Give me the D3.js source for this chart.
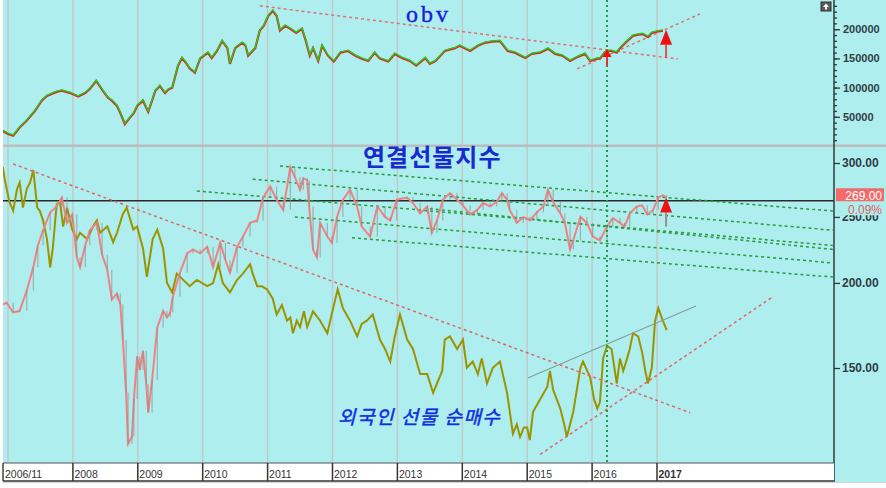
<!DOCTYPE html>
<html>
<head>
<meta charset="utf-8">
<script src="https://cdn.jsdelivr.net/npm/d3@7"></script>
<style>
  body { margin: 0; background: #fff; }
  svg { display: block; font-family: "Liberation Sans", Arial, sans-serif; }
</style>
</head>
<body>
<svg id="chart" width="886" height="488"></svg>
<script>
// OBV (top panel), values in thousands
const obvYears = [2006.92,2007.00,2007.08,2007.18,2007.29,2007.42,2007.52,2007.60,2007.68,2007.75,
  2007.83,2007.96,2008.08,2008.19,2008.26,2008.36,2008.46,2008.54,2008.60,2008.68,
  2008.73,2008.80,2008.88,2008.94,2008.99,2009.08,2009.16,2009.22,2009.27,2009.34,
  2009.42,2009.47,2009.53,2009.62,2009.68,2009.74,2009.80,2009.88,2009.96,2010.02,
  2010.08,2010.14,2010.22,2010.30,2010.38,2010.42,2010.50,2010.61,2010.66,2010.70,
  2010.81,2010.88,2010.94,2011.01,2011.08,2011.14,2011.19,2011.27,2011.35,2011.44,
  2011.53,2011.59,2011.65,2011.70,2011.78,2011.84,2011.93,2012.02,2012.12,2012.24,
  2012.35,2012.45,2012.55,2012.65,2012.73,2012.86,2012.96,2013.07,2013.19,2013.29,
  2013.43,2013.50,2013.59,2013.73,2013.89,2013.96,2014.12,2014.24,2014.35,2014.46,
  2014.58,2014.70,2014.81,2014.97,2015.07,2015.20,2015.32,2015.43,2015.54,2015.66,
  2015.78,2015.89,2015.97,2016.08,2016.12,2016.19,2016.23,2016.30,2016.38,2016.43,
  2016.54,2016.63,2016.71,2016.78,2016.86,2016.92,2017.00,2017.09];
const obvK = [27,22,19,33,45,62,79,87,91,94,
  96,92,86,92,99,113,96,84,79,70,
  58,39,50,58,70,79,60,79,96,104,
  92,98,101,139,152,144,134,127,151,156,
  161,152,164,181,169,142,169,178,173,156,
  169,199,207,224,233,224,199,207,202,195,
  202,181,156,169,147,173,156,146,161,164,
  156,151,147,161,151,146,159,152,147,139,
  152,142,147,164,169,173,164,173,178,180,
  181,164,161,152,159,161,168,159,156,147,
  154,159,147,151,151,161,164,164,161,169,
  181,190,192,193,188,195,197,199];

// 연결선물지수 (weekly closes)
const priceYears = [2006.92,2006.98,2007.08,2007.18,2007.29,2007.39,2007.46,2007.54,2007.65,2007.75,
  2007.83,2007.91,2007.99,2008.06,2008.11,2008.19,2008.26,2008.37,2008.45,2008.53,
  2008.60,2008.68,2008.73,2008.77,2008.82,2008.85,2008.91,2008.94,2008.99,2009.03,
  2009.08,2009.13,2009.16,2009.22,2009.30,2009.39,2009.45,2009.50,2009.54,2009.65,
  2009.76,2009.85,2009.96,2010.07,2010.16,2010.27,2010.35,2010.42,2010.53,2010.62,
  2010.73,2010.84,2010.93,2011.04,2011.14,2011.24,2011.35,2011.42,2011.50,2011.55,
  2011.61,2011.64,2011.70,2011.76,2011.81,2011.92,2011.99,2012.07,2012.16,2012.27,
  2012.38,2012.45,2012.58,2012.69,2012.81,2012.89,2012.99,2013.15,2013.24,2013.35,
  2013.46,2013.53,2013.61,2013.70,2013.81,2013.92,2014.01,2014.12,2014.23,2014.32,
  2014.43,2014.53,2014.61,2014.69,2014.73,2014.84,2014.94,2015.04,2015.15,2015.25,
  2015.32,2015.40,2015.51,2015.58,2015.66,2015.71,2015.82,2015.92,2016.01,2016.12,
  2016.23,2016.32,2016.43,2016.50,2016.58,2016.69,2016.77,2016.85,2016.94,2017.02,
  2017.09,2017.15];
const priceValues = [186,187,181,182,195,211,227,239,254,259,
  267,245,252,218,211,227,239,245,220,209,
  189,193,186,165,138,116,119,135,156,149,
  159,142,129,144,172,182,178,181,191,207,
  221,224,221,226,211,229,216,207,226,234,
  245,247,267,277,265,256,296,286,274,285,
  283,259,224,218,245,234,229,250,265,274,
  259,242,234,259,250,247,265,267,262,253,
  259,237,247,265,271,265,260,252,256,262,
  259,263,271,265,256,245,250,247,254,259,
  274,263,253,245,224,231,250,245,234,231,
  242,249,245,242,253,259,260,252,256,267,
  269,267];

// 외국인 선물 순매수 (relative level, no axis)
const netYears = [2006.92,2006.95,2007.02,2007.08,2007.14,2007.18,2007.23,2007.29,2007.34,2007.39,
  2007.45,2007.49,2007.54,2007.60,2007.65,2007.69,2007.75,2007.80,2007.85,2007.91,
  2007.99,2008.06,2008.11,2008.22,2008.31,2008.37,2008.42,2008.53,2008.62,2008.68,
  2008.77,2008.83,2008.93,2008.99,2009.08,2009.14,2009.23,2009.30,2009.39,2009.45,
  2009.53,2009.60,2009.70,2009.80,2009.91,2010.07,2010.16,2010.24,2010.31,2010.42,
  2010.53,2010.62,2010.73,2010.77,2010.84,2010.91,2010.99,2011.08,2011.14,2011.22,
  2011.30,2011.35,2011.39,2011.45,2011.50,2011.56,2011.61,2011.70,2011.81,2011.92,
  2012.01,2012.08,2012.16,2012.27,2012.38,2012.45,2012.53,2012.62,2012.73,2012.81,
  2012.89,2012.96,2013.04,2013.15,2013.24,2013.35,2013.46,2013.55,2013.61,2013.69,
  2013.73,2013.81,2013.92,2014.01,2014.07,2014.16,2014.24,2014.30,2014.38,2014.47,
  2014.58,2014.69,2014.78,2014.84,2014.89,2014.95,2015.00,2015.04,2015.09,2015.20,
  2015.31,2015.35,2015.40,2015.51,2015.57,2015.61,2015.71,2015.82,2015.86,2015.97,
  2016.03,2016.08,2016.12,2016.17,2016.23,2016.30,2016.38,2016.43,2016.48,2016.54,
  2016.58,2016.63,2016.71,2016.77,2016.82,2016.86,2016.92,2016.97,2017.02,2017.09,
  2017.15];
const netValues = [94,90,83,80,87,89,81,87,89,93,
  81,80,77,71,62,68,82,83,75,81,
  74,71,73,71,75,77,73,75,70,73,
  79,81,74,75,68,59,71,74,68,57,
  54,60,58,56,58,56,57,63,57,54,
  58,60,63,60,56,56,55,52,47,50,
  45,46,41,45,43,48,43,48,45,41,
  49,55,49,45,40,44,45,47,39,36,
  32,40,47,39,36,28,28,22,25,29,
  39,40,36,39,30,32,28,33,25,30,
  32,22,9,12,8,11,11,7,16,20,
  24,29,23,17,12,8,16,30,32,27,
  20,17,19,33,37,36,25,33,29,33,
  36,41,40,35,29,25,30,45,49,45,
  42];

// axis ticks
const gridYears = [2007,2008,2009,2010,2011,2012,2013,2014,2015,2016,2017];
const labelYears = [2008,2009,2010,2011,2012,2013,2014,2015,2016,2017];
const obvTicks = [50,100,150,200];
const obvMinorTicks = d3.range(10, 250, 10);
const priceTicks = [150,200,250,300];

// drawn trend lines: [year1, value1, year2, value2]
const obvTrends = [[2010.88, 240, 2017.32, 149], [2015.77, 132, 2017.66, 226]];
const greenChannels = [
  [2011.19, 297, 2019.71, 255],
  [2010.77, 284, 2019.71, 239],
  [2009.91, 273, 2019.71, 227],
  [2013.50, 257, 2019.71, 224],
  [2011.42, 250, 2019.71, 214],
  [2012.30, 233, 2019.71, 204]
];
const redTrends = [[2007.08, 299, 2017.51, 129], [2015.20, 112, 2018.79, 191]];
const grayTrend = [2015.01, 145, 2017.60, 185];
const refLevel = 264;
const lastPrice = '269.00';
const lastChange = '0.09%';
const markerYear = 2016.23;

const svg = d3.select('#chart');
const left = 3, right = 834;

// scales
const x = d3.scaleLinear().domain([2007, 2017]).range([8, 657]);
const yObv = d3.scaleLinear().domain([0, 250]).range([146, 0]);
const yPrice = d3.scaleLog().domain([150, 300]).range([368, 163]);
const yNet = d3.scaleLinear().domain([0, 100]).range([462, 148]);

// background
svg.append('rect').attr('x', left).attr('y', 0).attr('width', 886 - left).attr('height', 482)
  .attr('fill', '#afeeee');

const defs = svg.append('defs');
defs.append('clipPath').attr('id', 'clipTop').append('rect')
  .attr('x', left).attr('y', 0).attr('width', right - left).attr('height', 145);
defs.append('clipPath').attr('id', 'clipBot').append('rect')
  .attr('x', left).attr('y', 148).attr('width', right - left).attr('height', 314);

// year gridlines
svg.append('g').selectAll('line').data(gridYears).enter().append('line')
  .attr('x1', d => x(d)).attr('x2', d => x(d))
  .attr('y1', 0).attr('y2', 462)
  .attr('stroke', '#c2c9c9').attr('stroke-width', 1.5);

// panel separator
svg.append('rect').attr('x', left).attr('y', 144.5).attr('width', 886 - left).attr('height', 2.5)
  .attr('fill', '#bdbdbd');

// ---------- top panel: OBV ----------
const obvPanel = svg.append('g').attr('clip-path', 'url(#clipTop)');
const obvData = obvYears.map((d, i) => [d, obvK[i]]);
const obvLine = d3.line().x(d => x(d[0])).y(d => yObv(d[1]));

obvPanel.selectAll('.obvTrend').data(obvTrends).enter().append('line')
  .attr('x1', d => x(d[0])).attr('y1', d => yObv(d[1]))
  .attr('x2', d => x(d[2])).attr('y2', d => yObv(d[3]))
  .attr('stroke', '#e07070').attr('stroke-width', 1.5).attr('stroke-dasharray', '3,3');

obvPanel.append('path').datum(obvData).attr('d', obvLine)
  .attr('fill', 'none').attr('stroke', '#e62222').attr('stroke-width', 2.2)
  .attr('transform', 'translate(0,0.8)');
obvPanel.append('path').datum(obvData).attr('d', obvLine)
  .attr('fill', 'none').attr('stroke', '#1fcc1f').attr('stroke-width', 1.3);

// ---------- bottom panel ----------
const pricePanel = svg.append('g').attr('clip-path', 'url(#clipBot)');

// reference level
pricePanel.append('line').attr('x1', left).attr('x2', right)
  .attr('y1', yPrice(refLevel)).attr('y2', yPrice(refLevel))
  .attr('stroke', '#2a2a2a').attr('stroke-width', 1.4);

// green channel lines
pricePanel.selectAll('.channel').data(greenChannels).enter().append('line')
  .attr('x1', d => x(d[0])).attr('y1', d => yPrice(d[1]))
  .attr('x2', d => x(d[2])).attr('y2', d => yPrice(d[3]))
  .attr('stroke', '#2a9a3a').attr('stroke-width', 1.5).attr('stroke-dasharray', '3,3');

// net buying line
const netData = netYears.map((d, i) => [d, netValues[i]]);
pricePanel.append('path').datum(netData)
  .attr('d', d3.line().x(d => x(d[0])).y(d => yNet(d[1])))
  .attr('fill', 'none').attr('stroke', '#9a9400').attr('stroke-width', 2);

// futures index: pink line with grey candle bodies
const priceData = priceYears.map((d, i) => [d, priceValues[i]]);
pricePanel.append('path').datum(priceData)
  .attr('d', d3.line().x(d => x(d[0])).y(d => yPrice(d[1])))
  .attr('fill', 'none').attr('stroke', '#f28282').attr('stroke-width', 2);
pricePanel.selectAll('.candle').data(priceData.slice(1)).enter().append('line')
  .attr('x1', d => x(d[0])).attr('x2', d => x(d[0]))
  .attr('y1', (d, i) => yPrice(priceData[i][1]))
  .attr('y2', d => yPrice(d[1]))
  .attr('stroke', '#8e8e8e').attr('stroke-width', 1).attr('opacity', 0.75);

// red trend lines
pricePanel.selectAll('.redTrend').data(redTrends).enter().append('line')
  .attr('x1', d => x(d[0])).attr('y1', d => yPrice(d[1]))
  .attr('x2', d => x(d[2])).attr('y2', d => yPrice(d[3]))
  .attr('stroke', '#e06666').attr('stroke-width', 1.5).attr('stroke-dasharray', '3,3');

// grey trend line
pricePanel.append('line')
  .attr('x1', x(grayTrend[0])).attr('y1', yPrice(grayTrend[1]))
  .attr('x2', x(grayTrend[2])).attr('y2', yPrice(grayTrend[3]))
  .attr('stroke', '#8a9c9c').attr('stroke-width', 1.2);

// vertical marker
svg.append('line').attr('x1', x(markerYear)).attr('x2', x(markerYear))
  .attr('y1', 0).attr('y2', 462)
  .attr('stroke', '#1ea03c').attr('stroke-width', 2).attr('stroke-dasharray', '2,3');

// arrows
function arrow(xv, yTip, yTail, head, half, color) {
  const g = svg.append('g');
  g.append('line').attr('x1', xv).attr('x2', xv).attr('y1', yTip + head).attr('y2', yTail)
    .attr('stroke', color).attr('stroke-width', 2);
  g.append('path')
    .attr('d', `M${xv},${yTip} L${xv - half},${yTip + head} L${xv + half},${yTip + head} Z`)
    .attr('fill', '#f01010');
}
arrow(x(2016.23), yObv(166), yObv(137), 8, 4.5, '#e03030');
arrow(x(2017.14), yObv(199), yObv(151), 15, 6, '#e05050');
arrow(x(2017.14), yPrice(267), yPrice(242), 15, 6, '#a08a8a');

// ---------- titles ----------
svg.append('text').attr('x', 406).attr('y', 21.5)
  .style('font-family', '"Liberation Serif", "DejaVu Serif", serif')
  .style('font-size', '24px').style('letter-spacing', '3px')
  .attr('fill', '#1c1cdc').attr('stroke', '#1c1cdc').attr('stroke-width', 0.4)
  .text('obv');

svg.append('text').attr('x', 363).attr('y', 166)
  .style('font-family', '"Noto Sans CJK KR", sans-serif')
  .style('font-size', '24px').style('font-weight', 'bold').style('letter-spacing', '1px')
  .attr('fill', '#1a2ad0').text('연결선물지수');

svg.append('text').attr('x', 338).attr('y', 424)
  .style('font-family', '"Noto Sans CJK KR", sans-serif')
  .style('font-size', '19px').style('font-style', 'italic').style('letter-spacing', '1.5px')
  .attr('fill', '#1030e0').attr('stroke', '#1030e0').attr('stroke-width', 0.5)
  .text('외국인 선물 순매수');

// ---------- right axes ----------
const axTop = svg.append('g').attr('transform', `translate(${right},0)`);
axTop.call(d3.axisRight(yObv).tickValues(obvMinorTicks).tickSize(3).tickFormat(''));
axTop.append('g').call(d3.axisRight(yObv).tickValues(obvTicks).tickSize(6).tickPadding(3)
  .tickFormat(d => d * 1000));
axTop.selectAll('.domain').remove();

const axBot = svg.append('g').attr('transform', `translate(${right},0)`);
axBot.call(d3.axisRight(yPrice).tickValues(priceTicks).tickSize(6).tickPadding(2)
  .tickFormat(d3.format('.2f')));
axBot.selectAll('.domain').remove();

svg.selectAll('.tick text').attr('fill', '#2f3d44')
  .style('font-family', '"Liberation Sans", Arial, sans-serif')
  .style('font-size', '12px').style('font-weight', 'bold');
axTop.selectAll('.tick text').style('font-size', '11px');
svg.selectAll('.tick line').attr('stroke', '#2b3b3b').attr('stroke-width', 1.3);

svg.append('line').attr('x1', right).attr('x2', right).attr('y1', 0).attr('y2', 482)
  .attr('stroke', '#2b3b3b').attr('stroke-width', 1.5);

// last price badge (the change text covers the upper half of the 250.00 label, as in the source)
const yLast = yPrice(+lastPrice);
svg.append('rect').attr('x', 836).attr('y', yLast - 7).attr('width', 48).attr('height', 13)
  .attr('fill', '#f26b6b');
svg.append('text').attr('x', 882).attr('y', yLast + 4.5).attr('text-anchor', 'end')
  .style('font-size', '12px').attr('fill', '#fff').text(lastPrice);
svg.append('rect').attr('x', 836).attr('y', yLast + 8).attr('width', 50).attr('height', 12)
  .attr('fill', '#afeeee');
svg.append('text').attr('x', 882).attr('y', yLast + 19).attr('text-anchor', 'end')
  .style('font-size', '12px').attr('fill', '#e06060').text(lastChange);

// small toolbar button
svg.append('rect').attr('x', 821).attr('y', 2).attr('width', 10).attr('height', 9)
  .attr('fill', '#5a5a5a').attr('stroke', '#333');
svg.append('path').attr('d', 'M826,3.5 L829,7 L827,7 L827,9.5 L825,9.5 L825,7 L823,7 Z')
  .attr('fill', '#fff');

// ---------- date band ----------
svg.append('rect').attr('x', left).attr('y', 463).attr('width', right - left).attr('height', 18)
  .attr('fill', '#fff');
svg.append('line').attr('x1', left).attr('x2', right).attr('y1', 463).attr('y2', 463)
  .attr('stroke', '#555').attr('stroke-width', 1.2);
svg.append('line').attr('x1', left).attr('x2', right).attr('y1', 481).attr('y2', 481)
  .attr('stroke', '#666').attr('stroke-width', 2);
svg.append('line').attr('x1', left).attr('x2', left).attr('y1', 463).attr('y2', 481)
  .attr('stroke', '#444').attr('stroke-width', 1.5);
svg.append('line').attr('x1', left).attr('x2', 886).attr('y1', 482.5).attr('y2', 482.5)
  .attr('stroke', '#d4d4d4').attr('stroke-width', 1);

const band = svg.append('g');
band.selectAll('line').data(labelYears).enter().append('line')
  .attr('x1', d => x(d)).attr('x2', d => x(d)).attr('y1', 463).attr('y2', 481)
  .attr('stroke', '#333').attr('stroke-width', 1.5);
band.selectAll('text').data(labelYears).enter().append('text')
  .attr('x', d => x(d) + 1.5).attr('y', 478)
  .style('font-size', '10.5px')
  .style('font-weight', d => d === 2017 ? 'bold' : 'normal')
  .attr('fill', '#333').text(d => d);
band.append('text').attr('x', left + 2).attr('y', 478)
  .style('font-size', '10.5px').attr('fill', '#333').text('2006/11');
</script>
</body>
</html>
